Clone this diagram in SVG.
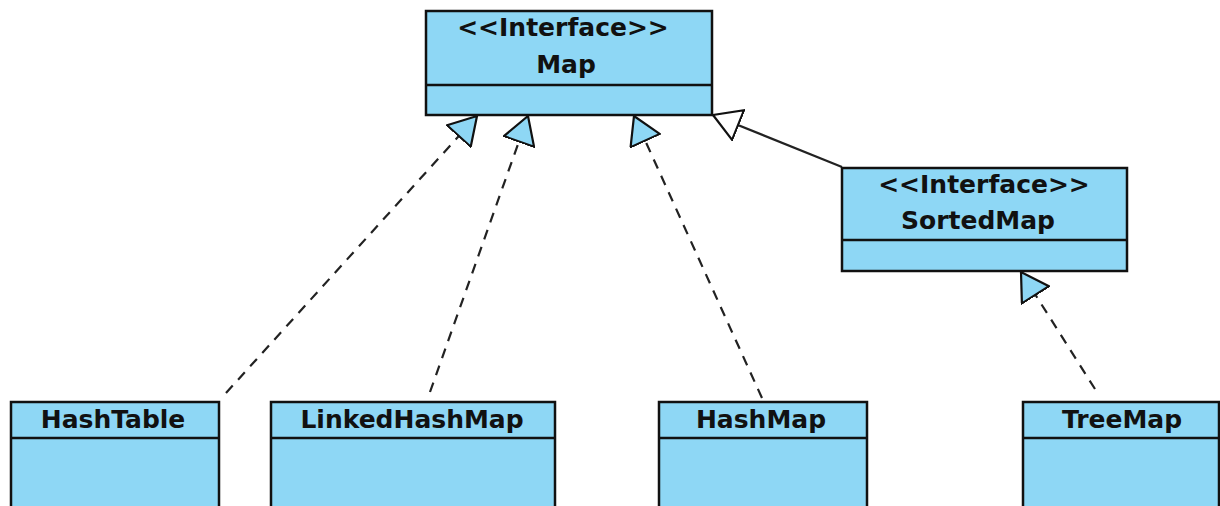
<svg xmlns="http://www.w3.org/2000/svg" width="1220" height="506" viewBox="0 0 1220 506">
  <style>
    .box { fill: #8ed7f5; stroke: #111; stroke-width: 2.5; }
    .div { stroke: #111; stroke-width: 2.5; fill: none; }
    .t { font-family: "DejaVu Sans", "Liberation Sans", sans-serif; font-weight: bold; font-size: 25px; fill: #111; text-anchor: middle; }
    .real { stroke: #222; stroke-width: 2.2; fill: none; stroke-dasharray: 10 8; }
    .gen { stroke: #222; stroke-width: 2.2; fill: none; }
  </style>
  <defs>
    <marker id="realHead" markerUnits="userSpaceOnUse" markerWidth="30" markerHeight="34" viewBox="0 0 30 34" refX="28" refY="17" orient="auto">
      <path d="M1,1 L28,17 L1,33 Z" fill="#8ed7f5" stroke="#111" stroke-width="2.2" stroke-linejoin="miter"/>
    </marker>
    <marker id="genHead" markerUnits="userSpaceOnUse" markerWidth="30" markerHeight="34" viewBox="0 0 30 34" refX="28" refY="17" orient="auto">
      <path d="M1,1 L28,17 L1,33 Z" fill="#ffffff" stroke="#111" stroke-width="2.2" stroke-linejoin="miter"/>
    </marker>
  </defs>

  <g id="connectors">
    <line class="real" x1="226" y1="393" x2="477" y2="116" marker-end="url(#realHead)"/>
    <line class="real" x1="430" y1="392" x2="528" y2="116" marker-end="url(#realHead)"/>
    <line class="real" x1="762" y1="398" x2="634" y2="116" marker-end="url(#realHead)"/>
    <line class="gen" x1="842" y1="167" x2="713" y2="115" marker-end="url(#genHead)"/>
    <line class="real" x1="1095" y1="389" x2="1021" y2="272" marker-end="url(#realHead)"/>
  </g>

  <g id="Map">
    <rect class="box" x="426" y="11" width="286" height="104"/>
    <line class="div" x1="426" y1="85" x2="712" y2="85"/>
    <text class="t" x="563" y="36">&lt;&lt;Interface&gt;&gt;</text>
    <text class="t" x="566" y="73">Map</text>
  </g>

  <g id="SortedMap">
    <rect class="box" x="842" y="168" width="285" height="103"/>
    <line class="div" x1="842" y1="240" x2="1127" y2="240"/>
    <text class="t" x="984" y="193">&lt;&lt;Interface&gt;&gt;</text>
    <text class="t" x="978" y="229">SortedMap</text>
  </g>

  <g id="HashTable">
    <rect class="box" x="11" y="402" width="208" height="110"/>
    <line class="div" x1="11" y1="438" x2="219" y2="438"/>
    <text class="t" x="113" y="428">HashTable</text>
  </g>

  <g id="LinkedHashMap">
    <rect class="box" x="271" y="402" width="284" height="110"/>
    <line class="div" x1="271" y1="438" x2="555" y2="438"/>
    <text class="t" x="412" y="428">LinkedHashMap</text>
  </g>

  <g id="HashMap">
    <rect class="box" x="659" y="402" width="208" height="110"/>
    <line class="div" x1="659" y1="438" x2="867" y2="438"/>
    <text class="t" x="761" y="428">HashMap</text>
  </g>

  <g id="TreeMap">
    <rect class="box" x="1023" y="402" width="196" height="110"/>
    <line class="div" x1="1023" y1="438" x2="1219" y2="438"/>
    <text class="t" x="1122" y="428">TreeMap</text>
  </g>
</svg>
